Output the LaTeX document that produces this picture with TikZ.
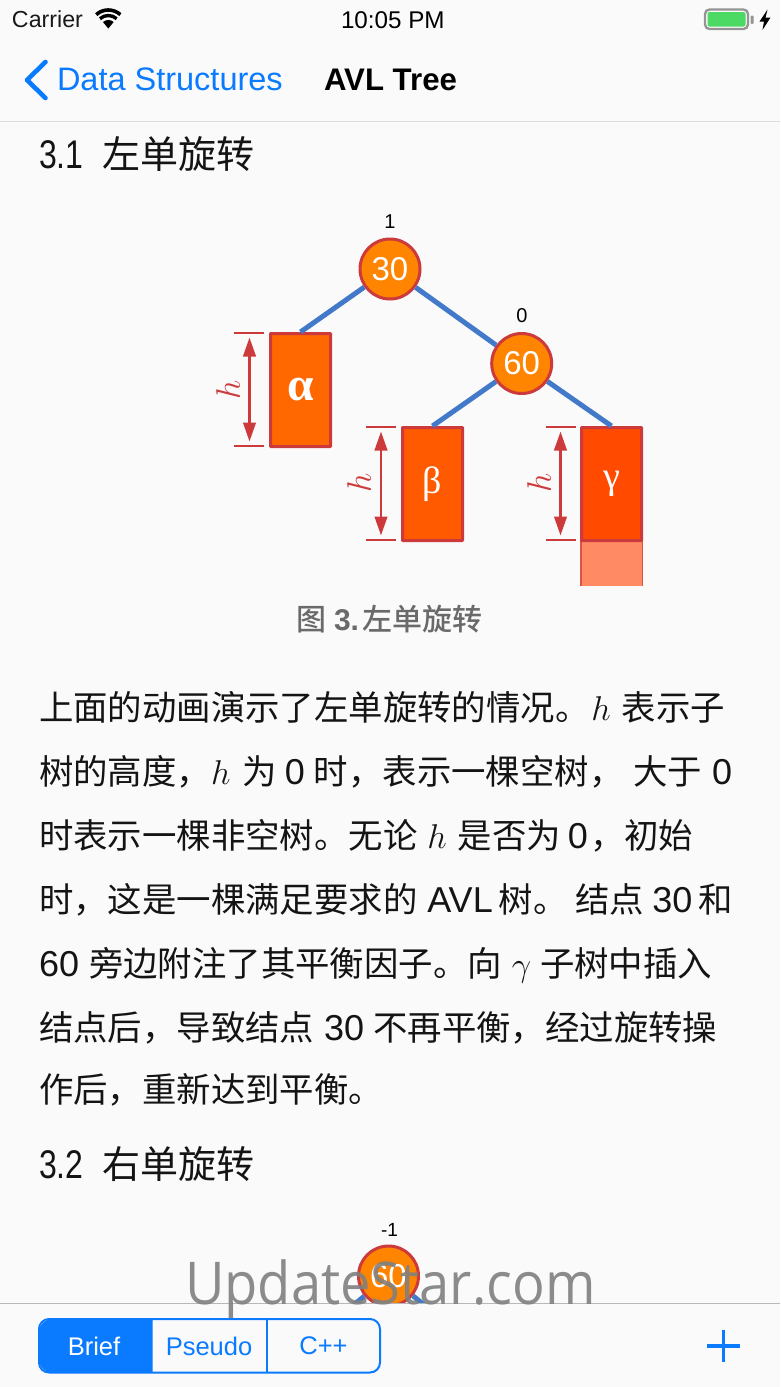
\RequirePackage{fix-cm}
\documentclass[tikz,border=0pt]{standalone}
\usepackage{graphicx}
\usepackage{fontspec}
\setmainfont{Liberation Sans}
\newfontfamily\cj{Noto Sans CJK SC}
\newfontfamily\cjm{Noto Sans CJK SC Medium}
\newfontfamily\wm{Open Sans}
\newfontfamily\grk{Liberation Serif}
\usetikzlibrary{arrows.meta}
\definecolor{bgc}{HTML}{FAFAFA}
\definecolor{ios}{HTML}{0A7AFF}
\definecolor{edgeblue}{HTML}{4279C9}
\definecolor{redl}{HTML}{CC3A3C}
\definecolor{nodeor}{HTML}{FF8400}
\definecolor{boxa}{HTML}{FF6800}
\definecolor{boxb}{HTML}{FF5A00}
\definecolor{boxc}{HTML}{FF4A00}
\definecolor{palebox}{HTML}{FF8A64}
\definecolor{capg}{HTML}{6A6A6A}
\definecolor{batt}{HTML}{4CD964}
\newcommand{\fs}[1]{\fontsize{#1}{#1}\selectfont}
\newcommand{\lt}[1]{{\rmfamily\fs{36}#1}}
\newcommand{\gp}[1]{\hspace*{#1pt}}
\newcommand{\hd}[1]{\scalebox{0.8}[1]{\rmfamily\fs{40}#1}}
\tikzset{
  x=1pt,y=-1pt,
  txt/.style={anchor=base west,inner sep=0pt,outer sep=0pt},
  para/.style={txt,font=\cj\fs{34.4},text=black!92},
  head/.style={txt,font=\cj\fs{38},text=black!92},
  tnode/.style={circle,draw=redl,fill=nodeor,line width=3pt,minimum size=60pt,inner sep=0pt,text=white,font=\fs{33}},
  sub/.style={rectangle,draw=redl,line width=3pt,minimum width=60pt,minimum height=113pt,inner sep=0pt,text=white,font=\grk\fs{38},rounded corners=0.6pt},
  treeedge/.style={draw=edgeblue,line width=5pt},
  tick/.style={draw=redl,line width=2.8pt},
  dim/.style={draw=redl,line width=2.6pt,{Triangle[width=12.5pt,length=19pt]}-{Triangle[width=12.5pt,length=19pt]},shorten >=4.5pt,shorten <=4.5pt},
  hlabel/.style={inner sep=0pt,text=redl,font=\fs{34},rotate=90},
  bf/.style={inner sep=0pt,text=black,font=\fs{20}},
  seg/.style={inner sep=0pt,font=\fs{25.5}},
}
\begin{document}
\begin{tikzpicture}
\useasboundingbox (0,0) rectangle (780,1387);
\fill[bgc] (0,0) rectangle (780,1387);

% status bar
\node[txt,font=\fs{23.2},text=black!90] (carrier) at (12,27.5) {Carrier};
\fill[black] (108.3,28.5) -- (102.95,22.05) arc[start angle=228,end angle=312,radius=8] -- cycle;
\draw[black,line width=3.4pt] (99.94,18.71) arc[start angle=228,end angle=312,radius=12.5];
\draw[black,line width=3.6pt] (96.26,14.62) arc[start angle=228,end angle=312,radius=18];
\node[txt,font=\fs{24.2},text=black] (clock) at (341,28) {10:05 PM};
\draw[black!42,line width=2.3pt,rounded corners=4.5pt] (705,9.5) rectangle (748,29);
\fill[black!42,rounded corners=1pt] (750.5,15.5) rectangle (753.5,24);
\fill[batt,rounded corners=2pt] (707.5,12) rectangle (745.5,26.5);
\fill[black] (767.5,9.5) -- (759.5,21.5) -- (764,21.5) -- (762.5,30) -- (770.5,17.5) -- (765.5,17.5) -- cycle;

% navigation bar
\draw[ios,line width=4.6pt,line cap=round,line join=round] (45.5,62) -- (27,80) -- (45.5,98);
\node[txt,font=\fs{32.5},text=ios] (back) at (57,90) {Data Structures};
\node[txt,font=\fs{31.2}\bfseries,text=black] (title) at (324,90) {AVL Tree};
\draw[black!13,line width=1.6pt] (0,121.5) -- (780,121.5);

\node[head] (h1) at (39,168) {\hd{3.1}\gp{19}左单旋转};

% tree 1
\node[tnode] (n30) at (390,269) {30};
\node[tnode] (n60) at (521.7,363.5) {60};
\node[sub,fill=boxa] (alpha) at (300.5,390) {\scalebox{1.25}{\textbf{α}}};
\node[sub,fill=boxb] (beta) at (432.5,484) {β};
\fill[palebox] (580.5,540) rectangle (642.5,586);
\draw[redl!70!palebox,line width=1.6pt] (580.7,541) -- (580.7,586) (642.3,541) -- (642.3,586);
\node[sub,fill=boxc] (gamma) at (611.5,484) {γ};
\draw[treeedge] (n30) -- (alpha.north);
\draw[treeedge] (n30) -- (n60);
\draw[treeedge] (n60) -- (beta.north);
\draw[treeedge] (n60) -- (gamma.north);
\node[bf] (bf30) at (390,222) {1};
\node[bf] (bf60) at (522,316) {0};

\coordinate (at) at (249.5,333); \coordinate (ab) at (249.5,446);
\draw[tick] (234,333) -- (264,333) (234,446) -- (264,446);
\draw[dim] (at) -- (ab);
\node[hlabel] (ha) at (228,390) {$h$};
\coordinate (bt) at (381,427); \coordinate (bb) at (381,540);
\draw[tick] (366,427) -- (396,427) (366,540) -- (396,540);
\draw[dim] (bt) -- (bb);
\node[hlabel] (hb) at (359,483) {$h$};
\coordinate (ct) at (560.5,427); \coordinate (cb) at (560.5,540);
\draw[tick] (546,427) -- (576,427) (546,540) -- (576,540);
\draw[dim] (ct) -- (cb);
\node[hlabel] (hc) at (539,483) {$h$};

\node[txt,font=\cjm\fs{30},text=capg] (cap) at (296,630) {图\gp{8}{\rmfamily\bfseries\fs{30}3.}\gp{3}左单旋转};

% paragraph
\node[para] (l1) at (39,720) {上面的动画演示了左单旋转的情况。\gp{2}$h$\gp{11}表示子};
\node[para] (l2) at (39,784) {树的高度，$h$\gp{12}为\gp{8}\lt{0}\gp{9}时，表示一棵空树，\gp{10}大于\gp{10}\lt{0}};
\node[para] (l3) at (39,848) {时表示一棵非空树。无论\gp{10}$h$\gp{11}是否为\gp{7}\lt{0}\gp{2}，初始};
\node[para] (l4) at (39,912) {时，这是一棵满足要求的\gp{10}\lt{AVL}\gp{6}树。\gp{8}结点\gp{8}\lt{30}\gp{6}和};
\node[para] (l5) at (39,976) {\lt{60}\gp{10}旁边附注了其平衡因子。向\gp{10}$\gamma$\gp{9}子树中插入};
\node[para] (l6) at (39,1040) {结点后，导致结点\gp{10}\lt{30}\gp{9}不再平衡，经过旋转操};
\node[para] (l7) at (39,1102) {作后，重新达到平衡。};

\node[head] (h2) at (39,1178) {\hd{3.2}\gp{19}右单旋转};

% tree 2, cut off by the toolbar
\node[bf,font=\fs{19}] (bfm) at (389.5,1230) {-1};
\node[tnode] (n60b) at (388.5,1276) {60};
\coordinate (lb) at (350,1308);
\coordinate (rb) at (428,1308);
\draw[treeedge] (n60b) -- (lb);
\draw[treeedge] (n60b) -- (rb);

% toolbar
\fill[bgc] (0,1303.5) rectangle (780,1387);
\draw[black!28,line width=1pt] (0,1303.5) -- (780,1303.5);
\fill[ios] (52,1319) -- (152.5,1319) -- (152.5,1372.5) -- (52,1372.5) arc[start angle=90,end angle=180,radius=13] -- (39,1332) arc[start angle=180,end angle=270,radius=13] -- cycle;
\draw[ios,line width=2pt,rounded corners=10pt] (39,1319) rectangle (380,1372.5);
\draw[ios,line width=2pt] (267,1319) -- (267,1372.5);
\node[seg,text=white] (s1) at (94,1346) {Brief};
\node[seg,text=ios] (s2) at (209,1346) {Pseudo};
\node[seg,text=ios] (s3) at (323.5,1346) {C++};
\draw[ios,line width=3.2pt] (707,1346) -- (740,1346) (723.5,1329.5) -- (723.5,1361.5);

% watermark
\node[txt,text=black!50,opacity=0.9] (wm) at (185,1304) {\scalebox{0.92}[1]{\wm\fs{59}UpdateStar.com}};
\end{tikzpicture}
\end{document}
